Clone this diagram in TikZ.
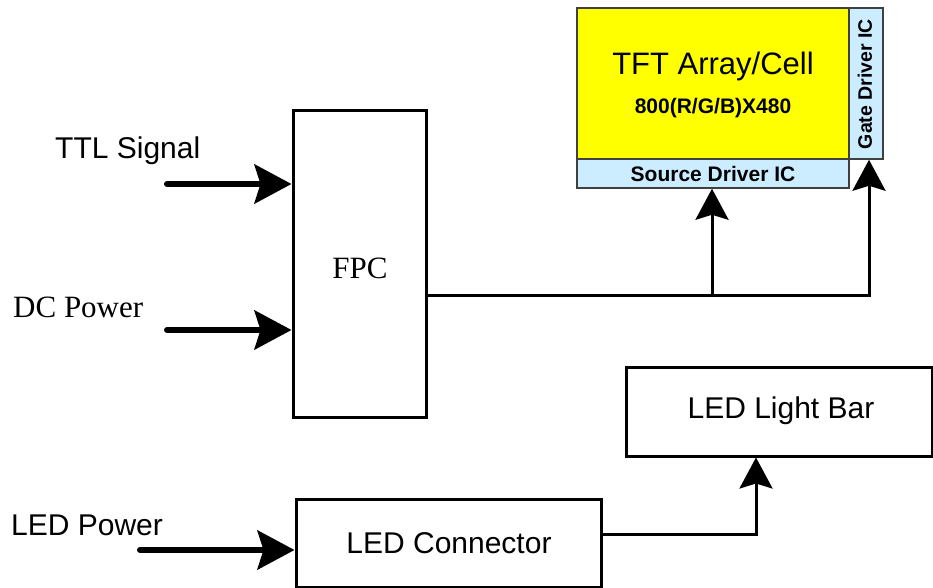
\documentclass[tikz,border=0pt]{standalone}
\usepackage{fontspec}
\setmainfont{Liberation Serif}
\setsansfont{Liberation Sans}
\usetikzlibrary{arrows.meta}
\definecolor{tftyellow}{RGB}{255,255,0}
\definecolor{drvblue}{RGB}{204,236,255}
\begin{document}
\begin{tikzpicture}[x=1pt,y=-1pt,
  boxshape/.style={draw=black,line width=3pt,rectangle,inner sep=0pt,anchor=center},
  panelshape/.style={boxshape,line width=1.5pt,draw=black!75},
  sanslabel/.style={font=\sffamily\fontsize{30}{30}\selectfont,inner sep=0pt},
  seriflabel/.style={font=\rmfamily\fontsize{31}{31}\selectfont,inner sep=0pt},
  drvlabel/.style={font=\sffamily\bfseries\fontsize{21}{21}\selectfont,inner sep=0pt},
  thickarrow/.style={line width=6pt,line cap=round,-{Stealth[length=37pt,width=39pt,inset=6pt]}},
  thinarrow/.style={line width=3pt,line join=miter,-{Stealth[length=31pt,width=33pt,inset=5pt]}}
]
\useasboundingbox (0,0) rectangle (933,588);
% TFT panel
\node[panelshape,fill=tftyellow,minimum width=272pt,minimum height=151pt] (tft) at (713,83.5) {};
\node[font=\sffamily\fontsize{31}{31}\selectfont,inner sep=0pt] (tfttitle) at (713,66) {TFT Array/Cell};
\node[font=\sffamily\bfseries\fontsize{21}{21}\selectfont,inner sep=0pt] (tftres) at (713,108) {800(R/G/B)X480};
\node[panelshape,fill=drvblue,minimum width=272pt,minimum height=29pt] (src) at (713,173.5) {};
\node[drvlabel] (srctext) at (713,174) {Source Driver IC};
\node[panelshape,fill=drvblue,minimum width=34pt,minimum height=151pt] (gate) at (866,83.5) {};
\node[drvlabel,font=\sffamily\bfseries\fontsize{19.5}{19.5}\selectfont,rotate=90] (gatetext) at (865,84) {Gate Driver IC};
% FPC
\node[boxshape,minimum width=133pt,minimum height=306pt] (fpc) at (359.5,264) {};
\node[font=\rmfamily\fontsize{31}{31}\selectfont,inner sep=0pt] (fpctext) at (360,268) {FPC};
% LED
\node[boxshape,minimum width=306pt,minimum height=89pt] (bar) at (779,411.5) {};
\node[sanslabel] (bartext) at (781,411) {LED Light Bar};
\node[boxshape,minimum width=305pt,minimum height=88pt] (conn) at (448.5,543) {};
\node[sanslabel] (conntext) at (449,543) {LED Connector};
% labels
\node[sanslabel,anchor=base west] (ttl) at (55,158) {TTL Signal};
\node[seriflabel,anchor=base west] (dc) at (13,317) {DC Power};
\node[sanslabel,anchor=base west] (ledp) at (11,535) {LED Power};
% arrows into FPC
\coordinate (ttlstart) at (167,184);
\coordinate (dcstart) at (167,330);
\coordinate (ledstart) at (140,550);
\draw[thickarrow] (ttlstart) -- (fpc.west |- ttlstart);
\draw[thickarrow] (dcstart) -- (fpc.west |- dcstart);
\draw[thickarrow] (ledstart) -- (conn.west |- ledstart);
% FPC to drivers
\coordinate (sj) at (712,295);
\coordinate (gj) at (869,295);
\draw[thinarrow] (fpc.east |- sj) -- (gj) -- (gj |- gate.south);
\draw[thinarrow] (sj) -- (sj |- src.south);
% connector to light bar
\coordinate (cj) at (756,534);
\draw[thinarrow] (conn.east |- cj) -- (cj) -- (cj |- bar.south);
\end{tikzpicture}
\end{document}
